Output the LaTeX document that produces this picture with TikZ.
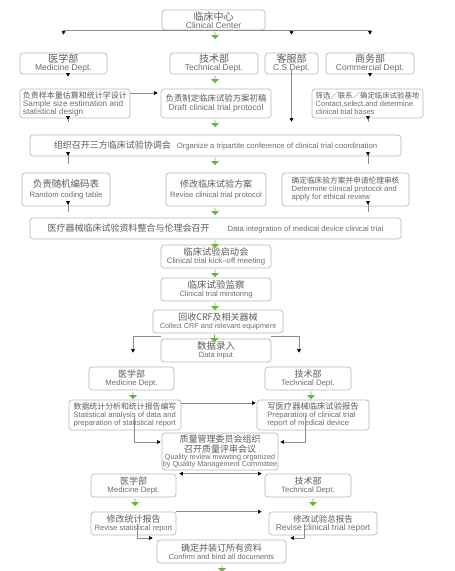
\documentclass[tikz,border=0pt]{standalone}
\usepackage{fontspec}
\setmainfont{Liberation Sans}
\newfontfamily\cjk{Noto Sans CJK SC}
\usepackage{xcolor}
\usepackage{tikz}
\usetikzlibrary{
  arrows.meta,
  shapes.arrows
}
\definecolor{BoxGray}{RGB}{185, 185, 185}
\definecolor{InkGray}{RGB}{92, 92, 92}
\definecolor{SoftGray}{RGB}{110, 110, 110}
\definecolor{LineGray}{RGB}{140, 140, 140}
\definecolor{LeafGreen}{RGB}{108, 179, 63}
\newcommand{\cnline}[2]{{\cjk\fontsize{#1}{#1}\selectfont\textcolor{InkGray}{#2}}}
\newcommand{\enline}[2]{{\fontsize{#1}{#1}\selectfont\textcolor{SoftGray}{#2}}}
\tikzset{
    >={Triangle[width=3.8pt, length=3.6pt, color=black]},
    flowbox/.style={draw=BoxGray, line width=0.7pt, rounded corners=3pt, fill=white, align=center, inner sep=0pt, font=\fontsize{8}{8}\selectfont},
    flowline/.style={draw=LineGray, line width=0.6pt, ->},
    greenhead/.style={single arrow, draw=none, fill=LeafGreen, minimum height=7.5pt, minimum width=8pt, single arrow head extend=2pt, single arrow head indent=0pt, inner sep=0pt, shape border rotate=270, anchor=tail}
}

\begin{document}
\begin{tikzpicture}[x=1pt, y=-1pt]
            \fill[white] (0,0) rectangle (455,571);
            \useasboundingbox (0,0) rectangle (455,571);

            \node[flowbox, minimum width=103pt, minimum height=20pt] (cc) at (213.5,20) {\cnline{10}{临床中心}\\\enline{8.5}{Clinical Center}};

            \node[flowbox, minimum width=87pt, minimum height=21pt] (med1) at (63.5,63.5) {\cnline{10}{医学部}\\\enline{8.5}{Medicine Dept.}};
            \node[flowbox, minimum width=88pt, minimum height=21pt] (tech1) at (214,63.5) {\cnline{10}{技术部}\\\enline{8.5}{Technical Dept.}};
            \node[flowbox, minimum width=53pt, minimum height=21pt] (cs) at (291.5,63.5) {\cnline{10}{客服部}\\\enline{8.5}{C.S Dept.}};
            \node[flowbox, minimum width=88pt, minimum height=21pt] (com) at (370,63.5) {\cnline{10}{商务部}\\\enline{8.5}{Commercial Dept.}};

            \node[flowbox, align=left, minimum width=110pt, minimum height=29pt] (sample) at (75,103.5) {\cnline{8}{负责样本量估算和统计学设计}\\\enline{8.2}{Sample size estimation and}\\\enline{8.2}{statistical design}};
            \node[flowbox, minimum width=110pt, minimum height=29pt] (draft) at (216,103.5) {\cnline{8.4}{负责制定临床试验方案初稿}\\[1.5pt]\enline{8.5}{Draft clinical trial protocol}};
            \node[flowbox, align=left, minimum width=111pt, minimum height=29pt] (contact) at (367.5,103.5) {\cnline{7.4}{筛选／联系／确定临床试验基地}\\\enline{7.5}{Contact,select,and determine}\\\enline{7.5}{clinical trial bases}};

            \node[flowbox, minimum width=371pt, minimum height=21pt] (tri) at (215.5,145.5) {\cnline{9}{组织召开三方临床试验协调会}\hspace{6pt}\enline{7.7}{Organize a tripartite conference of clinical trial coordination}};

            \node[flowbox, minimum width=88pt, minimum height=33pt] (random) at (66,189.5) {\cnline{9.5}{负责随机编码表}\\[2pt]\enline{7.7}{Random coding table}};
            \node[flowbox, minimum width=100pt, minimum height=33pt] (revise) at (216,189.5) {\cnline{9}{修改临床试验方案}\\[2pt]\enline{7.6}{Revise clinical trial protocol}};
            \node[flowbox, align=left, minimum width=127pt, minimum height=33pt] (determine) at (345.5,189.5) {\cnline{7.7}{确定临床验方案并申请伦理审核}\\\enline{7.7}{Determine clinical protocol and}\\\enline{7.7}{apply for ethical review}};

            \node[flowbox, minimum width=371pt, minimum height=21pt] (integ) at (215.5,228.5) {\cnline{9}{医疗器械临床试验资料整合与伦理会召开}\hspace{18pt}\enline{7.7}{Data integration of medical device clinical trial}};

            \node[flowbox, minimum width=110pt, minimum height=23pt] (kick) at (216,256.5) {\cnline{9.3}{临床试验启动会}\\\enline{7.8}{Clinical trial kick–off meeting}};
            \node[flowbox, minimum width=110pt, minimum height=23pt] (monitor) at (216,289.5) {\cnline{9.5}{临床试验监察}\\\enline{7.5}{Clinical trial minitoring}};
            \node[flowbox, minimum width=130pt, minimum height=23pt] (collect) at (218,321.5) {\cnline{9}{回收CRF及相关器械}\\\enline{7.2}{Collect CRF and relevant equipment}};
            \node[flowbox, minimum width=110pt, minimum height=23pt] (input) at (216,350.5) {\cnline{9.5}{数据录入}\\\enline{7.5}{Data input}};

            \node[flowbox, minimum width=85pt, minimum height=23pt] (med2) at (131.5,378.5) {\cnline{9}{医学部}\\\enline{7.8}{Medicine Dept.}};
            \node[flowbox, minimum width=86pt, minimum height=23pt] (tech2) at (308,378.5) {\cnline{9}{技术部}\\\enline{7.8}{Technical Dept.}};

            \node[flowbox, align=left, minimum width=112pt, minimum height=30pt] (stat) at (125,415) {\cnline{7.9}{数据统计分析和统计报告编写}\\\enline{7.6}{Statistical analysis of data and}\\\enline{7.6}{preparation of statistical report}};
            \node[flowbox, align=left, minimum width=112pt, minimum height=30pt] (prep) at (313,415) {\cnline{8.3}{写医疗器械临床试验报告}\\\enline{7.7}{Preparation of clinical trial}\\\enline{7.7}{report of medical device}};

            \node[flowbox, minimum width=116pt, minimum height=37pt] (quality) at (220,451.5) {\cnline{9}{质量管理委员会组织}\\[1pt]\cnline{9}{召开质量评审会议}\\[-0.5pt]\enline{7.3}{Quality review mwwting organized}\\[-1pt]\enline{7.3}{by Quality Management Committee}};

            \node[flowbox, minimum width=85pt, minimum height=23pt] (med3) at (133.5,485.5) {\cnline{9}{医学部}\\\enline{7.8}{Medicine Dept.}};
            \node[flowbox, minimum width=86pt, minimum height=23pt] (tech3) at (308,485.5) {\cnline{9}{技术部}\\\enline{7.8}{Technical Dept.}};

            \node[flowbox, minimum width=85pt, minimum height=23pt] (revstat) at (133.5,523.5) {\cnline{9}{修改统计报告}\\\enline{7.5}{Revise statistical report}};
            \node[flowbox, minimum width=108pt, minimum height=23pt] (revrep) at (323,523.5) {\cnline{8.5}{修改试验总报告}\\\enline{8.5}{Revise clinical trial report}};

            \node[flowbox, minimum width=129pt, minimum height=23pt] (confirm) at (221.5,551.5) {\cnline{9}{确定并装订所有资料}\\\enline{7.5}{Confirm and bind all documents}};

            \draw[flowline, shorten >=18pt] (cc.south) -| (med1.north);
            \draw[flowline, shorten >=18pt] (cc.south) -| (cs.north);
            \draw[flowline, shorten >=18pt] (cc.south) -| (com.north);

            \draw[flowline, shorten >=12pt] (med1.south -| 68,0) -- (sample.north -| 68,0);
            \draw[flowline, shorten >=12pt] (com.south) -- (com.south |- contact.north);
            \draw[flowline, shorten <=-5pt, shorten >=13pt] (cs.south) -- (cs.south |- tri.north);
            \draw[flowline, shorten >=3pt] (sample.east |- 0,93) -- (draft.west |- 0,93);

            \draw[flowline, shorten <=-4pt, shorten >=15pt] (sample.south -| 68,0) -- (tri.north -| 68,0);
            \draw[flowline, shorten <=-4pt, shorten >=15pt] (contact.south -| 368,0) -- (tri.north -| 368,0);
            \draw[flowline, shorten <=-8pt, shorten >=17pt] (tri.south -| 68,0) -- (random.north -| 68,0);
            \draw[flowline, shorten <=-8pt, shorten >=17pt] (tri.south -| 368,0) -- (determine.north -| 368,0);
            \draw[flowline, shorten <=-6pt, shorten >=13pt] (random.south -| 68,0) -- (integ.north -| 68,0);
            \draw[flowline, shorten <=-6pt, shorten >=13pt] (determine.south -| 368,0) -- (integ.north -| 368,0);

            \draw[flowline, shorten >=14pt] (input.west |- 0,336) -| (med2.north -| 133,0);
            \draw[flowline, shorten >=14pt] (input.east |- 0,336) -| (tech2.north -| 299,0);

            \draw[flowline, shorten >=1pt] (stat.east |- 0,403) -- (prep.west |- 0,403);
            \draw[flowline, shorten >=1pt] (stat.center -| 134,0) |- (quality.west |- 0,442);
            \draw[flowline, shorten >=2pt] (prep.center -| 305,0) |- (quality.east |- 0,442);

            \draw[flowline, <->, shorten <=3pt, shorten >=3pt] (med3.north east) -- (tech3.north west);
            \draw[flowline, shorten >=7pt] (revstat.north east) -- (revrep.north west);
            \draw[flowline, shorten >=4pt] (revstat.center -| 137,0) |- (confirm.west |- 0,538);
            \draw[flowline, shorten >=4pt] (revrep.center -| 304,0) |- (confirm.east |- 0,538);

            \foreach \src/\dx in {cc/1.5pt, tech1/1pt, draft/-1pt, tri/-0.5pt, revise/-1pt, integ/-0.5pt, kick/-1pt, monitor/-1pt, collect/-3.5pt, med2/1.5pt, tech2/3pt, med3/1.5pt, tech3/5pt, confirm/0.5pt}
                \node[greenhead] (g-\src) at ([xshift=\dx, yshift=-1pt]\src.south) {};
        \end{tikzpicture}
\end{document}
